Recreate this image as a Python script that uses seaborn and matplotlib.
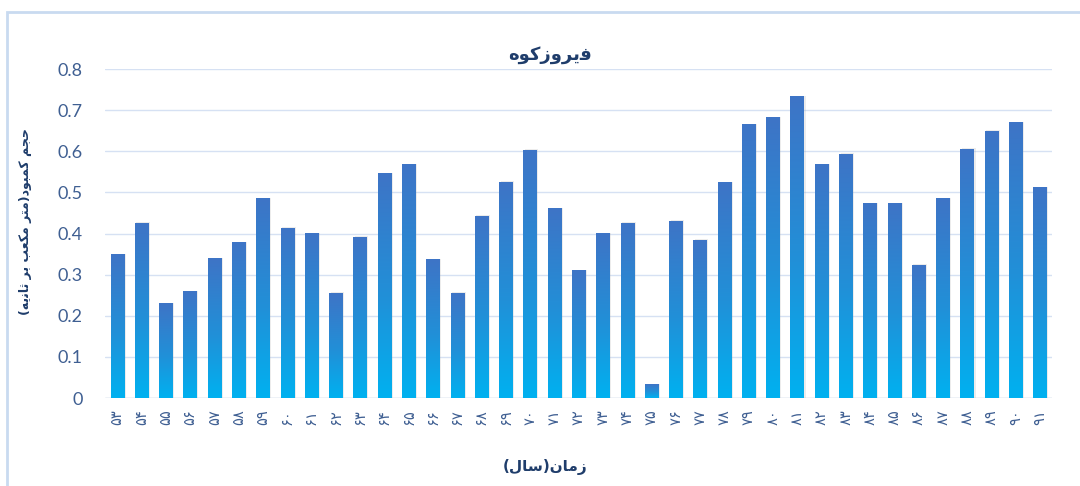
import matplotlib
matplotlib.use("Agg")
import matplotlib.pyplot as plt
import numpy as np
import pandas as pd
import seaborn as sns
from matplotlib.colors import LinearSegmentedColormap
from matplotlib.patches import Rectangle

# سال‌ها (برچسب‌های محور افقی) و حجم کمبود
years = ["۵۳", "۵۴", "۵۵", "۵۶", "۵۷", "۵۸", "۵۹", "۶۰", "۶۱", "۶۲",
         "۶۳", "۶۴", "۶۵", "۶۶", "۶۷", "۶۸", "۶۹", "۷۰", "۷۱", "۷۲",
         "۷۳", "۷۴", "۷۵", "۷۶", "۷۷", "۷۸", "۷۹", "۸۰", "۸۱", "۸۲",
         "۸۳", "۸۴", "۸۵", "۸۶", "۸۷", "۸۸", "۸۹", "۹۰", "۹۱"]
deficit = [0.348, 0.425, 0.230, 0.258, 0.338, 0.377, 0.484, 0.413, 0.399, 0.255,
           0.391, 0.545, 0.567, 0.336, 0.255, 0.442, 0.525, 0.603, 0.460, 0.309,
           0.399, 0.425, 0.032, 0.430, 0.384, 0.523, 0.664, 0.681, 0.732, 0.567,
           0.593, 0.472, 0.472, 0.323, 0.484, 0.605, 0.649, 0.669, 0.511]
y_ticks = [0, 0.1, 0.2, 0.3, 0.4, 0.5, 0.6, 0.7, 0.8]

# matplotlib no hace shaping árabe: formas de presentación en orden visual
title_fa = "\uFEE9\uFEEE\uFB90\uFEAF\uFEED\uFEAE\uFBFE\uFED3"          # فیروزکوه
ylabel_fa = ("(" + "\uFEEA\uFBFE\uFEE7\uFE8E\uFE9B" + " " + "\uFEAE\uFE91" + " "
             + "\uFE90\uFECC\uFB91\uFEE3" + " " + "\uFEAE\uFE98\uFEE3" + ")"
             + "\uFEA9\uFEEE\uFE92\uFEE4\uFB90" + " " + "\uFEE2\uFEA0\uFEA3")  # حجم کمبود(متر مکعب بر ثانیه)
xlabel_fa = "(" + "\uFEDD\uFE8E\uFEB3" + ")" + "\uFEE5\uFE8E\uFEE3\uFEAF"     # زمان(سال)

text_col = "#1f3d6b"
tick_col = "#3f5f92"
grid_col = "#d6e1f3"

sns.set_theme(style="white")
plt.rcParams["font.family"] = ["DejaVu Sans"]

df = pd.DataFrame({"year": years, "deficit": deficit})

fig = plt.figure(figsize=(10.8, 4.86), dpi=100)
ax = fig.add_axes([105 / 1080, 1 - 398 / 486, (1052 - 105) / 1080, (398 - 69) / 486])

sns.barplot(data=df, x="year", y="deficit", color="#3d74c6", width=0.54, ax=ax, zorder=2)

# degradado por barra: azul arriba, cian abajo
cmap = LinearSegmentedColormap.from_list(
    "bar", [(0.0, "#00b1f0"), (0.45, "#2190d8"), (1.0, "#3e74c6")])
grad = np.linspace(0, 1, 256).reshape(-1, 1)
for p in list(ax.patches):
    x0, w, h = p.get_x(), p.get_width(), p.get_height()
    p.set_facecolor("none")
    p.set_edgecolor("none")
    ax.add_patch(Rectangle((x0 + 0.06, 0), w + 0.02, h + 0.002, color="#9a9a9a",
                           alpha=0.18, lw=0, zorder=1.5))
    ax.imshow(grad, extent=[x0, x0 + w, 0, h], origin="lower", aspect="auto",
              cmap=cmap, zorder=2, interpolation="bilinear")

ax.set_xlim(-0.5, len(years) - 0.5)
ax.set_ylim(0, 0.8)
ax.set_yticks(y_ticks)
ax.set_yticklabels([f"{t:g}" for t in y_ticks], fontfamily="Lato", fontsize=13, color=tick_col)
ax.tick_params(axis="y", length=0, pad=16)
ax.tick_params(axis="x", length=0, pad=8)
for lab in ax.get_xticklabels():
    lab.set_rotation(90)
    lab.set_fontsize(10.5)
    lab.set_color(tick_col)
ax.yaxis.grid(True, color=grid_col, lw=1, zorder=0)
ax.set_axisbelow(True)
for s in ax.spines.values():
    s.set_visible(False)
ax.axhline(0, color="#d0d8e4", lw=1, zorder=1)
ax.set_xlabel("")
ax.set_ylabel("")

fig.text(550 / 1080, 1 - 55 / 486, title_fa, ha="center", va="center",
         fontsize=13, fontweight="bold", color=text_col)
fig.text(26 / 1080, 1 - 222 / 486, ylabel_fa, ha="center", va="center", rotation=90,
         fontsize=9, fontweight="bold", color=text_col)
fig.text(545 / 1080, 1 - 467 / 486, xlabel_fa, ha="center", va="center",
         fontsize=11, fontweight="bold", color=text_col)

# marco del gráfico
fig.patches.append(Rectangle((7 / 1080, -0.1), 1.2, 1.1 - 12 / 486, transform=fig.transFigure,
                             fill=False, edgecolor="#c9daf0", lw=2, figure=fig))

fig.savefig("out.png", dpi=100)
